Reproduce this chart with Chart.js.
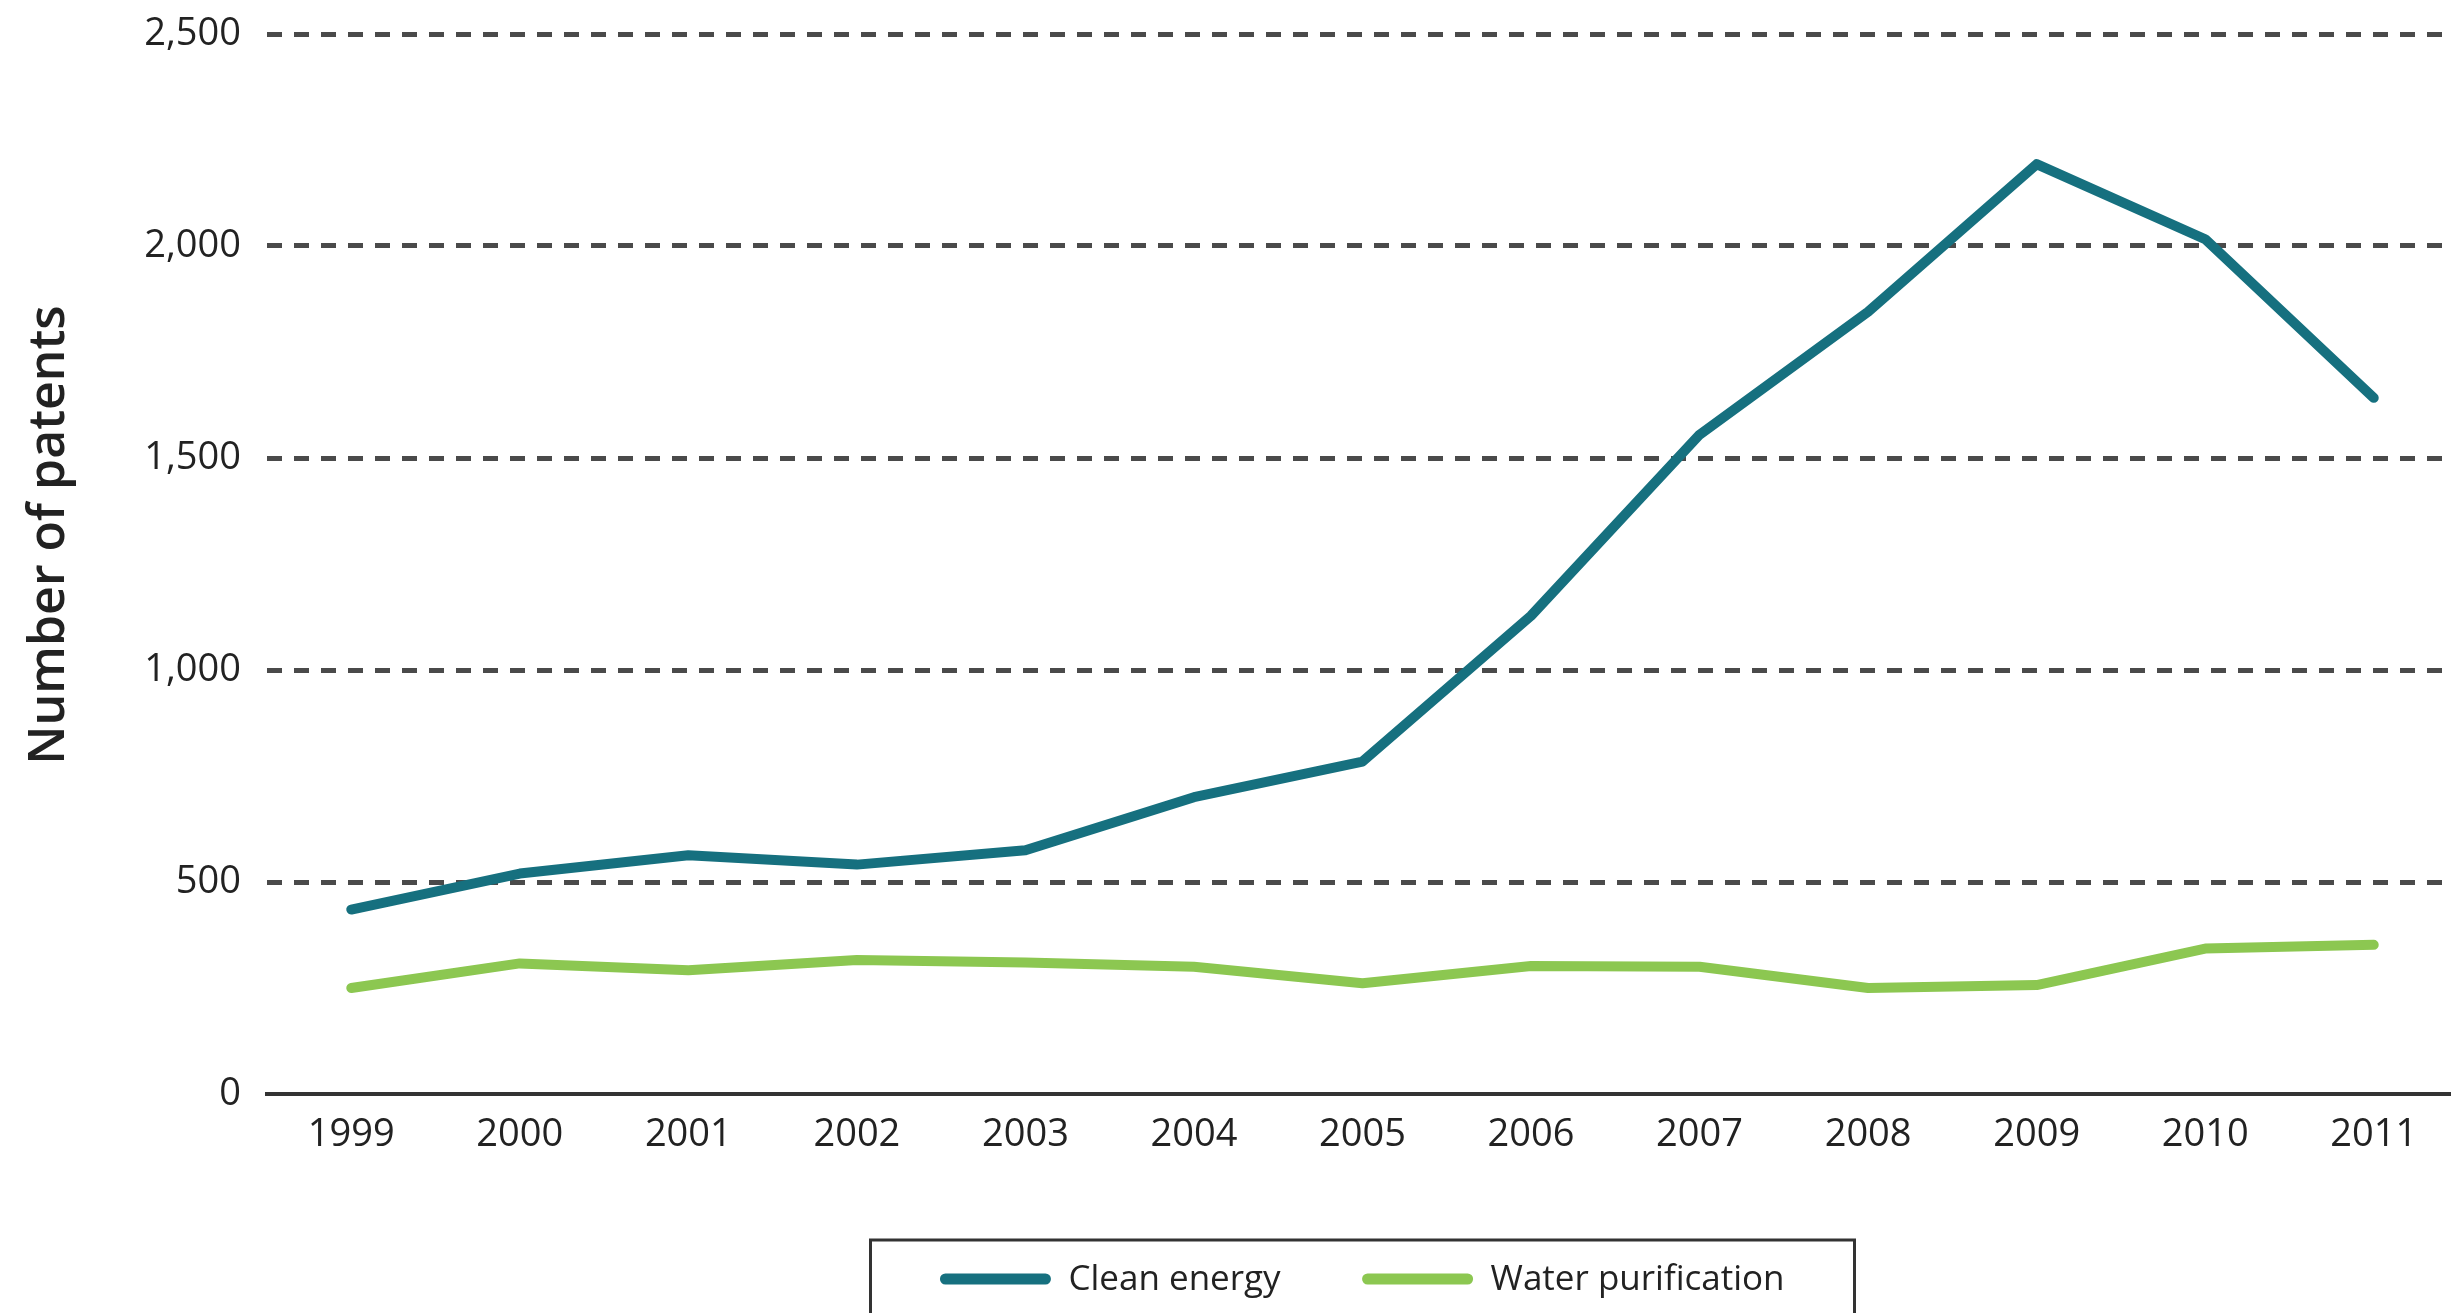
<!DOCTYPE html>
<html>
<head>
<meta charset="utf-8">
<script src="https://cdn.jsdelivr.net/npm/chart.js@4/dist/chart.umd.min.js"></script>
<style>
  html, body { margin: 0; padding: 0; background: #ffffff; overflow: hidden; }
  #wrap { width: 2458px; height: 1313px; position: relative; }
  canvas { display: block; }
</style>
</head>
<body>
<div id="wrap"><canvas id="c" width="2458" height="1313"></canvas></div>
<script>
const years = ['1999','2000','2001','2002','2003','2004','2005','2006','2007','2008','2009','2010','2011'];
const cleanEnergy = [435, 520, 563, 541, 575, 700, 784, 1128, 1555, 1845, 2193, 2016, 1642];
const waterPurification = [250, 308, 292, 316, 310, 300, 261, 302, 300, 250, 257, 343, 352];
const yTicks = [0, 500, 1000, 1500, 2000, 2500];
const seriesNames = ['Clean energy', 'Water purification'];
const yTitle = 'Number of patents';

const FONT = '"Open Sans", "Noto Sans", sans-serif';
const tealColor = '#16707f';
const greenColor = '#8cc751';

const customPlugin = {
  id: 'custom',
  afterDraw(chart) {
    const ctx = chart.ctx;
    const ca = chart.chartArea;
    // y-axis title
    ctx.save();
    ctx.translate(50, 535);
    ctx.rotate(-Math.PI / 2);
    ctx.font = '600 50px ' + FONT;
    ctx.fillStyle = '#222222';
    ctx.textAlign = 'center';
    ctx.textBaseline = 'middle';
    ctx.fillText(yTitle, 0, 0);
    ctx.restore();

    // legend box
    const cx = (ca.left + ca.right) / 2;
    const boxW = 984, boxTop = 1240;
    const boxL = cx - boxW / 2;
    ctx.save();
    ctx.strokeStyle = '#333333';
    ctx.lineWidth = 3;
    ctx.strokeRect(boxL, boxTop, boxW, 120);
    ctx.font = '35px ' + FONT;
    ctx.textBaseline = 'middle';
    const ds = chart.data.datasets;
    const sampleW = 110, gapText = 18, gapItem = 82;
    let total = 0;
    const widths = ds.map(d => ctx.measureText(d.label).width);
    widths.forEach((w, i) => { total += sampleW + gapText + w + (i < widths.length - 1 ? gapItem : 0); });
    let x = cx - total / 2;
    const y = 1279;
    ds.forEach((d, i) => {
      ctx.strokeStyle = d.borderColor;
      ctx.lineWidth = 11;
      ctx.lineCap = 'round';
      ctx.beginPath();
      ctx.moveTo(x + 5, y);
      ctx.lineTo(x + sampleW - 5, y);
      ctx.stroke();
      x += sampleW + gapText;
      ctx.fillStyle = '#222222';
      ctx.fillText(d.label, x, y + 1);
      x += widths[i] + gapItem;
    });
    ctx.restore();
  }
};

new Chart(document.getElementById('c'), {
  type: 'line',
  data: {
    labels: years,
    datasets: [
      {
        label: seriesNames[0],
        data: cleanEnergy,
        borderColor: tealColor,
        backgroundColor: tealColor,
        borderWidth: 10,
        pointRadius: 0,
        tension: 0,
        borderJoinStyle: 'round',
        borderCapStyle: 'round'
      },
      {
        label: seriesNames[1],
        data: waterPurification,
        borderColor: greenColor,
        backgroundColor: greenColor,
        borderWidth: 10,
        pointRadius: 0,
        tension: 0,
        borderJoinStyle: 'round',
        borderCapStyle: 'round'
      }
    ]
  },
  options: {
    responsive: false,
    animation: false,
    devicePixelRatio: 1,
    layout: { padding: { top: 34, right: 0, bottom: 0, left: 0 } },
    plugins: {
      legend: { display: false },
      tooltip: { enabled: false },
      title: { display: false }
    },
    scales: {
      x: {
        type: 'category',
        offset: true,
        grid: { display: false, drawTicks: false },
        border: { display: true, color: '#333333', width: 4 },
        ticks: {
          color: '#222222',
          font: { family: FONT, size: 38 },
          padding: 18,
          maxRotation: 0,
          autoSkip: false
        },
        afterFit(scale) { scale.height = 219; scale.paddingLeft = 0; scale.paddingRight = 0; }
      },
      y: {
        min: 0,
        max: 2500,
        afterBuildTicks(scale) { scale.ticks = yTicks.map(v => ({ value: v })); },
        grid: {
          drawTicks: false,
          color: ctx => (ctx.tick && ctx.tick.value === 0) ? 'rgba(0,0,0,0)' : '#4a4a4a',
          lineWidth: 5
        },
        border: { display: false, dash: [15, 12] },
        ticks: {
          color: '#222222',
          font: { family: FONT, size: 38 },
          padding: 26,
          callback: v => v.toLocaleString('en-US')
        },
        afterFit(scale) { scale.width = 267; scale.paddingTop = 0; scale.paddingBottom = 0; }
      }
    }
  },
  plugins: [customPlugin]
});
</script>
</body>
</html>
